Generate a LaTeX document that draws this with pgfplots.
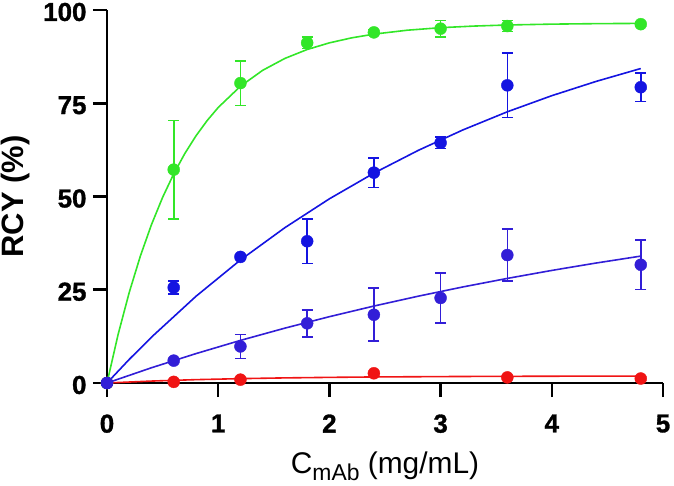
\documentclass[border=0pt]{standalone}
\usepackage{fontspec}
\setmainfont{Liberation Sans}
\newfontfamily\hv{Liberation Sans Bold}[FakeBold=1.2]
\usepackage{pgfplots}
\pgfplotsset{compat=1.18}
\definecolor{cgreen}{RGB}{50,230,40}
\definecolor{cblue}{RGB}{20,20,225}
\definecolor{cblue2}{RGB}{50,30,215}
\definecolor{cred}{RGB}{240,20,20}
\begin{document}
\begin{tikzpicture}
\begin{axis}[
  scale only axis, width=556bp, height=373bp,
  xmin=0, xmax=5, ymin=0, ymax=100,
  axis x line=bottom, axis y line=left,
  axis line style={line width=2.6bp, -},
  xtick={0,1,2,3,4,5}, ytick={0,25,50,75,100},
  tick align=outside, major tick length=14bp,
  tick style={line width=2.6bp, black},
  ticklabel style={font=\fontsize{26}{30}\hv},
  /pgf/number format/assume math mode=true,
  xticklabel style={yshift=-14bp},
  yticklabel style={xshift=-3bp, yshift=-2bp},
  xlabel={C\raisebox{-0.25em}{\fontsize{23}{25}\selectfont mAb} (mg/mL)},
  ylabel={\bfseries RCY (\%)},
  xlabel style={font=\fontsize{30}{32}\selectfont, at={(axis description cs:0.5,0)}, anchor=base, yshift=-90bp},
  ylabel style={font=\fontsize{31}{33}\selectfont, at={(axis description cs:-0.19,0.5)}, anchor=north, inner sep=0pt},
  clip=false,
  error bars/error bar style={line width=1.6bp},
  error bars/error mark options={rotate=90, mark size=5.5bp, line width=1.6bp},
]
% curves
\addplot[cred, line width=1.6bp, no marks] coordinates {
(0,0) (0.4,0.52) (0.8,0.90) (1.2,1.17) (1.6,1.37) (2.0,1.51) (2.4,1.62) (3.2,1.75) (4.0,1.82) (4.8,1.86)};
\addplot[cgreen, line width=1.6bp, no marks] coordinates {
(0,0) (0.1,13.03) (0.2,24.29) (0.3,34.03) (0.4,42.47) (0.5,49.76) (0.6,56.07) (0.7,61.53) (0.8,66.25) (0.9,70.33) (1.0,73.86) (1.2,79.56) (1.4,83.83) (1.6,87.02) (1.8,89.41) (2.0,91.19) (2.2,92.53) (2.4,93.53) (2.7,94.58) (3.0,95.26) (3.3,95.69) (3.6,95.98) (4.0,96.21) (4.4,96.34) (4.8,96.41)};
\addplot[cblue, line width=1.6bp, no marks] coordinates {
(0,0) (0.2,6.33) (0.4,12.29) (0.8,23.24) (1.2,32.98) (1.6,41.65) (2.0,49.38) (2.4,56.26) (2.8,62.38) (3.2,67.84) (3.6,72.71) (4.0,77.03) (4.4,80.87) (4.8,84.31)};
\addplot[cblue2, line width=1.6bp, no marks] coordinates {
(0,0) (0.4,4.09) (0.8,7.88) (1.2,11.42) (1.6,14.71) (2.0,17.78) (2.4,20.63) (2.8,23.28) (3.2,25.75) (3.6,28.04) (4.0,30.18) (4.4,32.17) (4.8,34.02)};
% data
\addplot[cred, only marks, mark=*, mark size=6bp] coordinates {
(0,0) (0.6,0.3) (1.2,0.9) (2.4,2.6) (3.6,1.5) (4.8,1.2)};
\addplot[cgreen, only marks, mark=*, mark size=6bp,
  error bars/.cd, y dir=both, y explicit] coordinates {
(0,0) +- (0,0)
(0.6,57.2) +- (0,13.2)
(1.2,80.4) +- (0,6)
(1.8,91.2) +- (0,1.5)
(2.4,94.0) +- (0,0.8)
(3.0,95.0) +- (0,2.2)
(3.6,95.7) +- (0,1.5)
(4.8,96.2) +- (0,0.5)};
\addplot[cblue, only marks, mark=*, mark size=6bp,
  error bars/.cd, y dir=both, y explicit] coordinates {
(0,0) +- (0,0)
(0.6,25.6) +- (0,1.8)
(1.2,33.8) +- (0,0.5)
(1.8,38.0) +- (0,6)
(2.4,56.4) +- (0,4)
(3.0,64.4) +- (0,1.5)
(3.6,79.8) +- (0,8.6)
(4.8,79.3) +- (0,3.8)};
\addplot[cblue2, only marks, mark=*, mark size=6bp,
  error bars/.cd, y dir=both, y explicit] coordinates {
(0,0) +- (0,0)
(0.6,6.0) +- (0,0.5)
(1.2,9.8) +- (0,3.2)
(1.8,16.0) +- (0,3.6)
(2.4,18.3) +- (0,7.1)
(3.0,22.8) +- (0,6.7)
(3.6,34.3) +- (0,7)
(4.8,31.7) +- (0,6.6)};
\end{axis}
\pgfresetboundingbox
\path (-107bp,-103bp) rectangle (567bp,383bp);
\end{tikzpicture}
\end{document}
